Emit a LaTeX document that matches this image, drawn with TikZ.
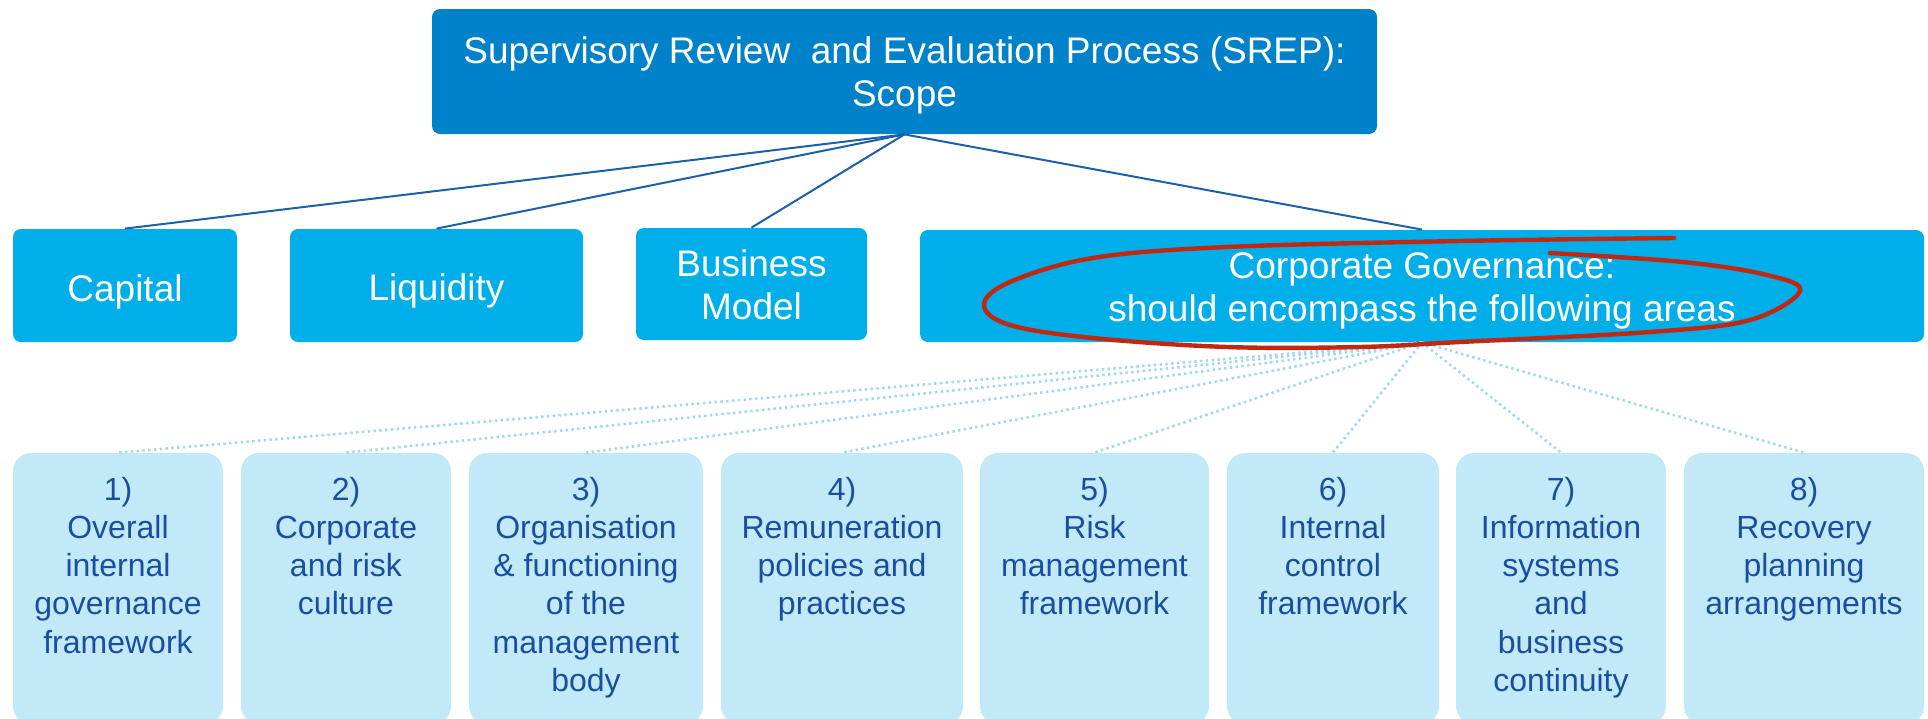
\documentclass[tikz,border=0pt]{standalone}
\usepackage{fontspec}
\setmainfont{Liberation Sans}
\usetikzlibrary{fit}
\definecolor{topblue}{RGB}{0,130,202}
\definecolor{midblue}{RGB}{0,174,234}
\definecolor{lightblue}{RGB}{194,233,248}
\definecolor{textblue}{RGB}{28,78,160}
\definecolor{linkblue}{RGB}{30,95,170}
\definecolor{dotblue}{RGB}{160,216,242}
\definecolor{penred}{RGB}{192,40,18}
\newcommand\mlines[1]{\begin{tabular}[t]{@{}c@{}}#1\end{tabular}}
\setlength\tabcolsep{0pt}
\begin{document}
\begin{tikzpicture}[x=0.5pt,y=-0.5pt,
 boxbase/.style={inner sep=0pt, draw=none, rectangle},
 topbox/.style={boxbase, fill=topblue, rounded corners=4pt},
 midbox/.style={boxbase, fill=midblue, rounded corners=4pt},
 lowbox/.style={boxbase, fill=lightblue, rounded corners=9pt},
 whitetxt/.style={anchor=base, inner sep=0pt, text=white, font=\fontsize{18.5}{21.5}\selectfont},
 bluetxt/.style={anchor=base, inner sep=0pt, text=textblue, font=\fontsize{16}{19.15}\selectfont},
 link/.style={draw=linkblue, line width=1pt},
 dotlink/.style={draw=dotblue, line width=1.3pt, dash pattern=on 1.2pt off 1.7pt},
 pen/.style={draw=penred, line width=2.2pt, line cap=round, line join=round}]
\useasboundingbox (0,0) rectangle (1928,718);
% boxes
\node[topbox, fit={(432,9) (1377,134)}] (top) {};
\node[midbox, fit={(13,229) (237,342)}] (cap) {};
\node[midbox, fit={(290,229) (583,342)}] (liq) {};
\node[midbox, fit={(636,228) (867,340)}] (bus) {};
\node[midbox, fit={(920,230) (1924,342)}] (corp) {};
\node[lowbox, fit={(13,453) (223,724)}] (b1) {};
\node[lowbox, fit={(241,453) (451,724)}] (b2) {};
\node[lowbox, fit={(469,453) (703,724)}] (b3) {};
\node[lowbox, fit={(721,453) (963,724)}] (b4) {};
\node[lowbox, fit={(980,453) (1209,724)}] (b5) {};
\node[lowbox, fit={(1227,453) (1439,724)}] (b6) {};
\node[lowbox, fit={(1456,453) (1666,724)}] (b7) {};
\node[lowbox, fit={(1684,453) (1924,724)}] (b8) {};
% connectors
\foreach \n in {cap,liq,bus,corp} \draw[link] (top.south) -- (\n.north);
\foreach \n in {b1,b2,b3,b4,b5,b6,b7,b8} \draw[dotlink] (corp.south) -- (\n.north);
% texts
\node[whitetxt] (ttop) at (904.5,63) {\mlines{Supervisory Review\ \ and Evaluation Process (SREP):\\Scope}};
\node[whitetxt] (tcap) at (125,301) {Capital};
\node[whitetxt] (tliq) at (436.5,300) {Liquidity};
\node[whitetxt] (tbus) at (751.5,276) {\mlines{Business\\Model}};
\node[whitetxt] (tcorp) at (1422,278) {\mlines{Corporate Governance:\\should encompass the following areas}};
\node[bluetxt] (t1) at (118,500) {\mlines{1)\\Overall\\internal\\governance\\framework}};
\node[bluetxt] (t2) at (346,500) {\mlines{2)\\Corporate\\and risk\\culture}};
\node[bluetxt] (t3) at (586,500) {\mlines{3)\\Organisation\\\& functioning\\of the\\management\\body}};
\node[bluetxt] (t4) at (842,500) {\mlines{4)\\Remuneration\\policies and\\practices}};
\node[bluetxt] (t5) at (1094.5,500) {\mlines{5)\\Risk\\management\\framework}};
\node[bluetxt] (t6) at (1333,500) {\mlines{6)\\Internal\\control\\framework}};
\node[bluetxt] (t7) at (1561,500) {\mlines{7)\\Information\\systems\\and\\business\\continuity}};
\node[bluetxt] (t8) at (1804,500) {\mlines{8)\\Recovery\\planning\\arrangements}};
% red hand-drawn ellipse
\draw[pen] plot[smooth, tension=0.6] coordinates {(1674,238) (1460,241) (1227,247) (1093,258) (1010,282) (984,305) (1010,325) (1093,338) (1227,347) (1360,347) (1460,342) (1650,332) (1750,320) (1800,291) (1767,275) (1683,262) (1550,253)};
\end{tikzpicture}
\end{document}
